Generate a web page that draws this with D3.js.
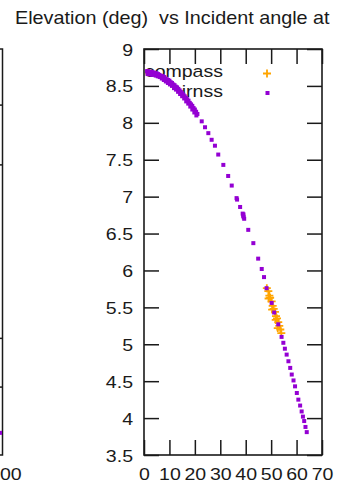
<!DOCTYPE html>
<html><head><meta charset="utf-8">
<script src="https://cdn.jsdelivr.net/npm/d3@7"></script>
<style>body{margin:0;background:#fff}svg{display:block}text{white-space:pre}</style>
</head><body><svg id="c" width="337" height="487"></svg>
<script>
const titleText = "Elevation (deg)  vs Incident angle at";
const xTicks = [0,10,20,30,40,50,60,70];
const yTicks = [3.5,4,4.5,5,5.5,6,6.5,7,7.5,8,8.5,9];
const seriesNames = ["compass","irnss"];
const seriesColors = ["#ffa500","#9400d3"];

const irnssX = [1.2,1.5,2.0,2.5,3.0,3.5,4.0,4.5,5.0,5.5,6.0,6.5,7.0,7.5,8.0,8.5,9.0,9.5,10.0,10.5,11.0,11.5,12.0,12.5,13.0,13.5,14.0,14.5,15.0,15.5,16.0,16.5,17.0,17.5,18.0,18.5,19.0,19.5,20.0,20.5,21.0,
  1.4,2.2,3.0,3.8,4.6,5.4,6.2,7.0,7.8,8.6,9.4,10.2,11.0,11.8,12.6,13.4,14.2,15.0,15.8,16.6,17.4,18.2,19.0,19.8,20.6,
  22.7,24.0,25.3,26.6,27.9,29.2,31.2,33.1,34.5,36.4,36.6,37.8,38.8,39.0,39.2,39.4,39.1,41.0,43.0,44.9,46.3,47.2,
  48.2,50.2,51.2,52.8,54.1,54.8,55.4,56.1,56.8,57.5,58.1,58.8,59.4,60.1,60.7,61.4,62.0,62.5,63.0,63.5,64.0];
const irnssY = [8.70,8.70,8.69,8.69,8.69,8.68,8.68,8.67,8.67,8.66,8.65,8.64,8.63,8.63,8.62,8.60,8.59,8.58,8.57,8.55,8.54,8.52,8.51,8.49,8.48,8.46,8.44,8.42,8.40,8.38,8.36,8.34,8.32,8.30,8.27,8.25,8.23,8.20,8.18,8.15,8.12,
  8.66,8.66,8.65,8.65,8.64,8.63,8.62,8.60,8.58,8.56,8.54,8.52,8.50,8.47,8.45,8.42,8.39,8.36,8.33,8.29,8.26,8.22,8.18,8.14,8.10,
  8.02,7.94,7.86,7.77,7.69,7.57,7.43,7.28,7.15,6.98,6.96,6.86,6.77,6.74,6.72,6.70,6.76,6.55,6.37,6.16,6.02,5.91,
  5.76,5.56,5.43,5.27,5.10,5.02,4.94,4.86,4.77,4.68,4.59,4.51,4.43,4.34,4.25,4.17,4.09,4.02,3.96,3.88,3.81];

const compassX = [48.3,48.9,49.3,49.6,49.0,50.2,50.6,50.4,51.0,51.5,51.9,51.8,52.3,52.8,52.6,53.2,53.6,54.0];
const compassY = [5.76,5.72,5.66,5.63,5.62,5.58,5.52,5.47,5.48,5.44,5.38,5.33,5.35,5.30,5.22,5.25,5.20,5.15];

// neighbouring (clipped) panel on the left, same elevation scale
const leftTickVals = [8.24,7.43,5.08,4.42];
const leftPointY = [3.80];
const leftTickLabel = "00";

const svg = d3.select("#c");
const X0 = 144, X1 = 322, Y0 = 49, Y1 = 455;
const FONT = "'Liberation Sans', Arial, sans-serif";
const SX = 1.15;
const INK = "#1a1a1a";

const x = d3.scaleLinear().domain([0,70]).range([X0,X1]);
const y = d3.scaleLinear().domain([3.5,9]).range([Y1,Y0]);

svg.append("rect").attr("width",337).attr("height",487).attr("fill","#fff");

// title
svg.append("text").attr("transform","translate(15,24) scale(1.1,1)").attr("xml:space","preserve")
  .attr("font-family",FONT).attr("font-size",18).attr("fill",INK).text(titleText);

// left clipped panel
const LX = 2.5;
svg.append("path").attr("d",`M0,${Y0}H${LX}V${Y1}H0`).attr("fill","none").attr("stroke",INK).attr("stroke-width",1.5);
svg.selectAll(".lt").data(leftTickVals).join("line").attr("class","lt")
  .attr("x1",LX-15).attr("x2",LX).attr("y1",d=>y(d)).attr("y2",d=>y(d))
  .attr("stroke",INK).attr("stroke-width",1.5);
svg.selectAll(".lp").data(leftPointY).join("rect").attr("class","lp")
  .attr("x",-2).attr("y",d=>y(d)-2).attr("width",4).attr("height",4).attr("fill",seriesColors[1]);
svg.append("text").attr("transform",`translate(0,480) scale(${SX},1)`)
  .attr("font-family",FONT).attr("font-size",17).attr("fill",INK).text(leftTickLabel);

// axes
function styleAxis(g){
  g.select(".domain").remove();
  g.attr("font-family",FONT).attr("font-size",17);
  g.selectAll(".tick line").attr("stroke",INK).attr("stroke-width",1.5);
  g.selectAll(".tick text").attr("fill",INK);
}
const gl = svg.append("g").attr("transform",`translate(${X0},0)`)
  .call(d3.axisLeft(y).tickValues(yTicks).tickSize(-15).tickFormat(d=>String(d)));
styleAxis(gl);
gl.selectAll(".tick text").attr("x",null).attr("dy",null)
  .attr("transform",`translate(-11,6) scale(${SX},1)`).attr("text-anchor","end");

const gb = svg.append("g").attr("transform",`translate(0,${Y1})`)
  .call(d3.axisBottom(x).tickValues(xTicks).tickSize(-15).tickFormat(d=>String(d)));
styleAxis(gb);
gb.selectAll(".tick text").attr("y",null).attr("dy",null)
  .attr("transform",`translate(0,25) scale(${SX},1)`).attr("text-anchor","middle");

const gt = svg.append("g").attr("transform",`translate(0,${Y0})`)
  .call(d3.axisTop(x).tickValues(xTicks).tickSize(-15).tickFormat(""));
styleAxis(gt);
const gr = svg.append("g").attr("transform",`translate(${X1},0)`)
  .call(d3.axisRight(y).tickValues(yTicks).tickSize(-15).tickFormat(""));
styleAxis(gr);

// frame
svg.append("rect").attr("x",X0).attr("y",Y0).attr("width",X1-X0).attr("height",Y1-Y0)
  .attr("fill","none").attr("stroke",INK).attr("stroke-width",1.6);

// legend text
const legendRows = [77,97];
svg.selectAll(".lg").data(seriesNames).join("text").attr("class","lg")
  .attr("transform",(d,i)=>`translate(223,${legendRows[i]}) scale(${SX},1)`)
  .attr("text-anchor","end").attr("font-family",FONT).attr("font-size",17).attr("fill",INK).text(d=>d);

const plusPath = "M-4,0H4M0,-4V4";
// compass points
svg.selectAll(".cp").data(compassX.map((d,i)=>[d,compassY[i]])).join("path").attr("class","cp")
  .attr("transform",d=>`translate(${x(d[0])},${y(d[1])})`).attr("d",plusPath)
  .attr("stroke",seriesColors[0]).attr("stroke-width",1.8).attr("fill","none");
// irnss points
svg.selectAll(".ip").data(irnssX.map((d,i)=>[d,irnssY[i]])).join("rect").attr("class","ip")
  .attr("x",d=>x(d[0])-2).attr("y",d=>y(d[1])-2).attr("width",4).attr("height",4)
  .attr("fill",seriesColors[1]);

// legend samples
svg.append("path").attr("transform","translate(267,73.5)").attr("d",plusPath)
  .attr("stroke",seriesColors[0]).attr("stroke-width",1.8).attr("fill","none");
svg.append("rect").attr("x",265.5).attr("y",91).attr("width",4).attr("height",4).attr("fill",seriesColors[1]);
</script></body></html>
